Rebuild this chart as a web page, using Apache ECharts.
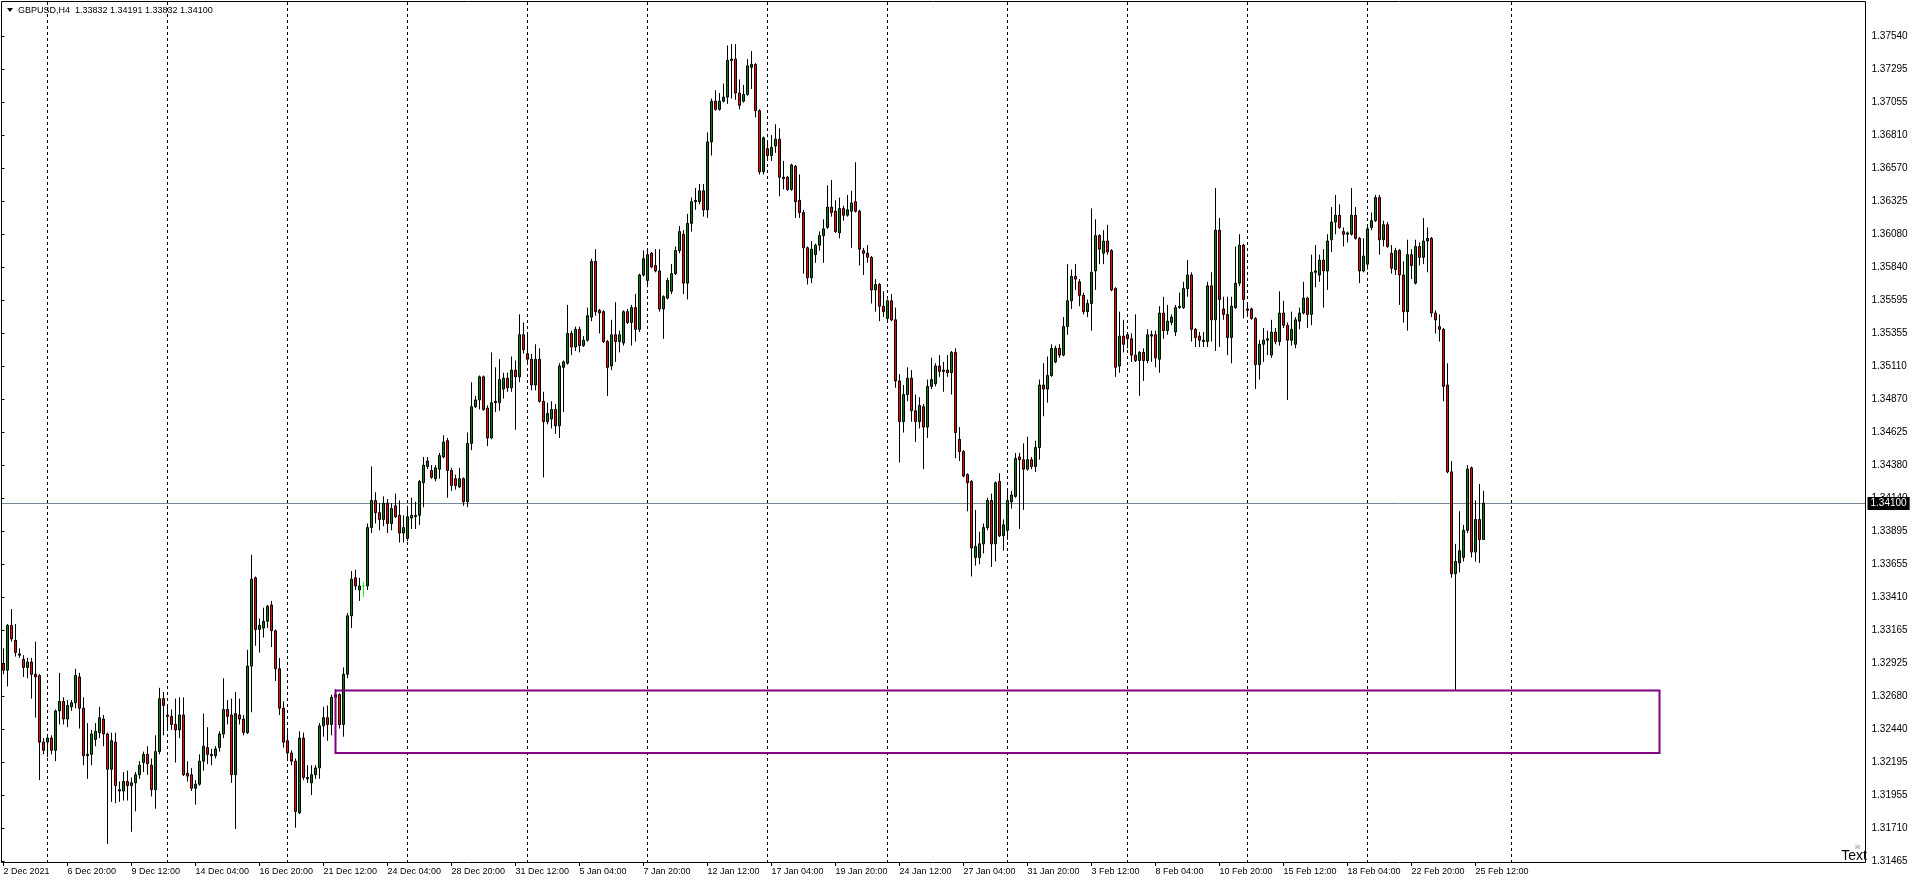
<!DOCTYPE html>
<html><head><meta charset="utf-8">
<script src="https://cdn.jsdelivr.net/npm/echarts/dist/echarts.min.js"></script>
<style>html,body{margin:0;padding:0;background:#fff;overflow:hidden}#c{width:1912px;height:885px}</style>
</head><body><div id="c"></div>
<script>
// ---------- data ----------
const symbolTitle = 'GBPUSD,H4  1.33832 1.34191 1.33832 1.34100';
const dateLabels = ['2 Dec 2021','6 Dec 20:00','9 Dec 12:00','14 Dec 04:00','16 Dec 20:00','21 Dec 12:00','24 Dec 04:00','28 Dec 20:00','31 Dec 12:00','5 Jan 04:00','7 Jan 20:00','12 Jan 12:00','17 Jan 04:00','19 Jan 20:00','24 Jan 12:00','27 Jan 04:00','31 Jan 20:00','3 Feb 12:00','8 Feb 04:00','10 Feb 20:00','15 Feb 12:00','18 Feb 04:00','22 Feb 20:00','25 Feb 12:00'];
const dateLabelStep = 16;
const priceTickLabels = ['1.31465','1.31710','1.31955','1.32195','1.32440','1.32680','1.32925','1.33165','1.33410','1.33655','1.33895','1.34140','1.34380','1.34625','1.34870','1.35110','1.35355','1.35595','1.35840','1.36080','1.36325','1.36570','1.36810','1.37055','1.37295','1.37540'];
const separatorBars = [11,41,71,101,131,161,191,221,251,281,311,341,377];
const bidPrice = 1.34100;
const zoneBox = [83, 414, 1.3272, 1.3226]; // fromBar, toBar, top price, bottom price

// bars: [open, high, low, close]
const wk0 = [[1.3292,1.3303,1.3284,1.3287],[1.3287,1.3321,1.3275,1.3320],[1.3320,1.3332,1.3308,1.3310],[1.3309,1.3321,1.3297,1.3300],[1.3299,1.3303,1.3296,1.3298],[1.3295,1.3298,1.3282,1.3289],[1.3289,1.3296,1.3281,1.3293],[1.3293,1.3296,1.3266,1.3284],[1.3284,1.3308,1.3252,1.3282],[1.3283,1.3284,1.3206,1.3234],[1.3234,1.3237,1.3225,1.3228]];
const wk1 = [[1.3234,1.3239,1.3223,1.3237],[1.3237,1.3239,1.3225,1.3228],[1.3228,1.3258,1.3220,1.3257],[1.3257,1.3285,1.3247,1.3264],[1.3264,1.3267,1.3247,1.3251],[1.3251,1.3265,1.3245,1.3261],[1.3260,1.3265,1.3257,1.3263],[1.3263,1.3288,1.3259,1.3283],[1.3282,1.3285,1.3244,1.3259],[1.3259,1.3267,1.3217,1.3224],
[1.3224,1.3248,1.3207,1.3225],[1.3225,1.3243,1.3217,1.3240],[1.3236,1.3248,1.3231,1.3242],[1.3241,1.3260,1.3237,1.3252],[1.3251,1.3254,1.3231,1.3240],[1.3240,1.3241,1.3159,1.3214],[1.3214,1.3241,1.3190,1.3235],[1.3234,1.3241,1.3189,1.3202],[1.3199,1.3205,1.3190,1.3198],[1.3198,1.3212,1.3191,1.3205],
[1.3205,1.3213,1.3191,1.3202],[1.3202,1.3208,1.3168,1.3204],[1.3204,1.3212,1.3183,1.3210],[1.3210,1.3220,1.3207,1.3217],[1.3219,1.3227,1.3212,1.3225],[1.3225,1.3231,1.3210,1.3218],[1.3217,1.3222,1.3194,1.3199],[1.3199,1.3239,1.3185,1.3227],[1.3227,1.3274,1.3225,1.3266],[1.3266,1.3271,1.3239,1.3261]];
const wk2 = [[1.3254,1.3261,1.3244,1.3253],[1.3253,1.3258,1.3243,1.3247],[1.3247,1.3266,1.3219,1.3243],[1.3243,1.3267,1.3237,1.3254],[1.3254,1.3267,1.3209,1.3210],[1.3211,1.3220,1.3205,1.3209],[1.3210,1.3215,1.3198,1.3200],[1.3200,1.3206,1.3188,1.3203],[1.3203,1.3225,1.3202,1.3220],[1.3220,1.3255,1.3213,1.3231],
[1.3230,1.3245,1.3218,1.3225],[1.3225,1.3229,1.3217,1.3224],[1.3224,1.3231,1.3222,1.3229],[1.3230,1.3242,1.3227,1.3240],[1.3240,1.3281,1.3237,1.3258],[1.3258,1.3265,1.3247,1.3253],[1.3254,1.3266,1.3204,1.3210],[1.3210,1.3271,1.3170,1.3255],[1.3254,1.3266,1.3247,1.3251],[1.3251,1.3254,1.3239,1.3241],
[1.3241,1.3302,1.3240,1.3290],[1.3290,1.3372,1.3256,1.3354],[1.3355,1.3356,1.3305,1.3317],[1.3317,1.3325,1.3300,1.3320],[1.3318,1.3333,1.3311,1.3323],[1.3323,1.3335,1.3318,1.3334],[1.3335,1.3338,1.3304,1.3316],[1.3316,1.3317,1.3279,1.3288],[1.3288,1.3296,1.3254,1.3259],[1.3259,1.3264,1.3230,1.3234]];
const wk3 = [[1.3235,1.3242,1.3220,1.3226],[1.3226,1.3228,1.3217,1.3220],[1.3220,1.3222,1.3171,1.3183],[1.3182,1.3242,1.3181,1.3237],[1.3237,1.3241,1.3206,1.3208],[1.3208,1.3217,1.3204,1.3207],[1.3204,1.3217,1.3195,1.3210],[1.3210,1.3217,1.3207,1.3215],[1.3215,1.3248,1.3207,1.3246],[1.3246,1.3260,1.3238,1.3252],
[1.3252,1.3261,1.3235,1.3247],[1.3247,1.3269,1.3239,1.3267],[1.3267,1.3273,1.3244,1.3269],[1.3269,1.3270,1.3244,1.3247],[1.3247,1.3289,1.3238,1.3284],[1.3284,1.3329,1.3281,1.3327],[1.3327,1.3360,1.3318,1.3354],[1.3355,1.3361,1.3346,1.3349],[1.3346,1.3355,1.3338,1.3349],[1.3349,1.3352,1.3341,1.3349],
[1.3349,1.3395,1.3346,1.3392],[1.3392,1.3437,1.3388,1.3412],[1.3412,1.3418,1.3395,1.3403],[1.3403,1.3410,1.3390,1.3398],[1.3398,1.3415,1.3393,1.3410],[1.3410,1.3413,1.3388,1.3395],[1.3395,1.3410,1.3390,1.3406],[1.3408,1.3417,1.3399,1.3400],[1.3401,1.3412,1.3381,1.3388],[1.3388,1.3401,1.3381,1.3392]];
const wk4 = [[1.3384,1.3408,1.3382,1.3400],[1.3399,1.3414,1.3391,1.3401],[1.3400,1.3411,1.3391,1.3401],[1.3401,1.3427,1.3394,1.3426],[1.3425,1.3444,1.3407,1.3438],[1.3437,1.3444,1.3435,1.3441],[1.3434,1.3438,1.3428,1.3429],[1.3428,1.3438,1.3426,1.3436],[1.3435,1.3447,1.3428,1.3445],[1.3444,1.3460,1.3443,1.3455],
[1.3456,1.3458,1.3414,1.3434],[1.3434,1.3436,1.3419,1.3423],[1.3428,1.3431,1.3420,1.3423],[1.3422,1.3436,1.3421,1.3428],[1.3428,1.3429,1.3408,1.3411],[1.3411,1.3462,1.3407,1.3454],[1.3454,1.3499,1.3449,1.3481],[1.3481,1.3489,1.3480,1.3486],[1.3486,1.3504,1.3479,1.3503],[1.3503,1.3504,1.3478,1.3479],
[1.3480,1.3482,1.3452,1.3458],[1.3458,1.3521,1.3457,1.3484],[1.3484,1.3510,1.3477,1.3485],[1.3484,1.3516,1.3478,1.3501],[1.3494,1.3506,1.3487,1.3502],[1.3502,1.3506,1.3492,1.3495],[1.3495,1.3518,1.3492,1.3508],[1.3508,1.3515,1.3464,1.3503],[1.3503,1.3549,1.3499,1.3534],[1.3534,1.3543,1.3520,1.3523]];
const wk5 = [[1.3520,1.3536,1.3513,1.3516],[1.3516,1.3520,1.3493,1.3497],[1.3497,1.3527,1.3493,1.3516],[1.3516,1.3524,1.3484,1.3485],[1.3485,1.3492,1.3429,1.3470],[1.3470,1.3484,1.3468,1.3476],[1.3472,1.3485,1.3465,1.3479],[1.3479,1.3483,1.3461,1.3467],[1.3467,1.3513,1.3458,1.3511],[1.3510,1.3515,1.3477,1.3514],
[1.3513,1.3556,1.3512,1.3535],[1.3535,1.3537,1.3519,1.3525],[1.3525,1.3540,1.3522,1.3538],[1.3538,1.3540,1.3521,1.3526],[1.3526,1.3533,1.3525,1.3530],[1.3530,1.3554,1.3529,1.3548],[1.3547,1.3590,1.3544,1.3588],[1.3588,1.3597,1.3548,1.3551],[1.3552,1.3553,1.3535,1.3550],[1.3551,1.3552,1.3528,1.3529],
[1.3529,1.3530,1.3489,1.3510],[1.3511,1.3545,1.3508,1.3534],[1.3534,1.3558,1.3514,1.3529],[1.3529,1.3537,1.3521,1.3534],[1.3528,1.3552,1.3526,1.3551],[1.3551,1.3553,1.3542,1.3543],[1.3543,1.3556,1.3526,1.3554],[1.3554,1.3564,1.3529,1.3538],[1.3538,1.3579,1.3536,1.3578],[1.3578,1.3596,1.3577,1.3590]];
const wk6 = [[1.3574,1.3596,1.3569,1.3593],[1.3594,1.3595,1.3583,1.3584],[1.3585,1.3597,1.3580,1.3581],[1.3581,1.3597,1.3551,1.3553],[1.3553,1.3563,1.3531,1.3562],[1.3561,1.3576,1.3560,1.3574],[1.3566,1.3586,1.3564,1.3579],[1.3579,1.3599,1.3578,1.3596],[1.3596,1.3614,1.3594,1.3610],[1.3608,1.3611,1.3564,1.3572],
[1.3572,1.3623,1.3560,1.3616],[1.3616,1.3635,1.3610,1.3632],[1.3632,1.3642,1.3626,1.3633],[1.3632,1.3645,1.3630,1.3640],[1.3640,1.3645,1.3621,1.3626],[1.3626,1.3683,1.3620,1.3676],[1.3676,1.3708,1.3666,1.3706],[1.3706,1.3714,1.3699,1.3700],[1.3700,1.3712,1.3699,1.3706],[1.3706,1.3719,1.3705,1.3709],
[1.3709,1.3747,1.3704,1.3736],[1.3736,1.3748,1.3708,1.3737],[1.3737,1.3748,1.3707,1.3712],[1.3712,1.3722,1.3700,1.3703],[1.3706,1.3718,1.3705,1.3711],[1.3711,1.3737,1.3710,1.3732],[1.3731,1.3743,1.3715,1.3733],[1.3733,1.3734,1.3694,1.3699],[1.3699,1.3700,1.3652,1.3654],[1.3654,1.3680,1.3652,1.3679]];
const wk7 = [[1.3671,1.3677,1.3662,1.3666],[1.3666,1.3681,1.3662,1.3672],[1.3673,1.3689,1.3668,1.3678],[1.3678,1.3686,1.3636,1.3650],[1.3650,1.3662,1.3641,1.3649],[1.3650,1.3651,1.3640,1.3641],[1.3641,1.3660,1.3640,1.3659],[1.3658,1.3659,1.3620,1.3632],[1.3633,1.3652,1.3620,1.3624],[1.3624,1.3626,1.3579,1.3598],
[1.3598,1.3599,1.3571,1.3576],[1.3576,1.3603,1.3572,1.3597],[1.3593,1.3601,1.3587,1.3600],[1.3600,1.3610,1.3596,1.3607],[1.3607,1.3619,1.3587,1.3612],[1.3613,1.3644,1.3612,1.3628],[1.3628,1.3648,1.3621,1.3624],[1.3625,1.3633,1.3609,1.3610],[1.3609,1.3635,1.3605,1.3627],[1.3627,1.3629,1.3618,1.3622],
[1.3622,1.3637,1.3621,1.3626],[1.3625,1.3640,1.3598,1.3631],[1.3632,1.3661,1.3624,1.3625],[1.3625,1.3626,1.3585,1.3597],[1.3596,1.3598,1.3578,1.3594],[1.3594,1.3600,1.3587,1.3591],[1.3591,1.3592,1.3557,1.3567],[1.3567,1.3575,1.3551,1.3571],[1.3571,1.3572,1.3544,1.3555],[1.3555,1.3566,1.3547,1.3551]];
const wk8 = [[1.3546,1.3560,1.3543,1.3559],[1.3559,1.3564,1.3544,1.3545],[1.3545,1.3554,1.3495,1.3500],[1.3500,1.3505,1.3440,1.3470],[1.3470,1.3497,1.3462,1.3490],[1.3490,1.3510,1.3485,1.3502],[1.3502,1.3508,1.3470,1.3478],[1.3478,1.3490,1.3455,1.3470],[1.3470,1.3488,1.3465,1.3482],[1.3481,1.3483,1.3435,1.3466],
[1.3466,1.3501,1.3458,1.3496],[1.3496,1.3517,1.3494,1.3501],[1.3498,1.3513,1.3496,1.3511],[1.3511,1.3519,1.3503,1.3507],[1.3507,1.3514,1.3492,1.3508],[1.3508,1.3519,1.3503,1.3506],[1.3506,1.3522,1.3490,1.3521],[1.3521,1.3524,1.3443,1.3462],[1.3457,1.3466,1.3441,1.3448],[1.3448,1.3449,1.3429,1.3430],
[1.3431,1.3432,1.3404,1.3425],[1.3426,1.3427,1.3356,1.3377],[1.3370,1.3405,1.3364,1.3378],[1.3370,1.3389,1.3365,1.3380],[1.3380,1.3395,1.3373,1.3392],[1.3392,1.3414,1.3390,1.3412],[1.3412,1.3417,1.3363,1.3380],[1.3380,1.3426,1.3367,1.3425],[1.3426,1.3432,1.3385,1.3386],[1.3386,1.3398,1.3375,1.3394]];
const wk9 = [[1.3390,1.3419,1.3383,1.3412],[1.3411,1.3419,1.3406,1.3416],[1.3415,1.3447,1.3414,1.3443],[1.3444,1.3447,1.3391,1.3442],[1.3442,1.3454,1.3405,1.3435],[1.3435,1.3459,1.3434,1.3442],[1.3442,1.3444,1.3435,1.3437],[1.3437,1.3456,1.3433,1.3451],[1.3451,1.3501,1.3442,1.3497],[1.3497,1.3513,1.3474,1.3494],
[1.3494,1.3518,1.3484,1.3504],[1.3504,1.3527,1.3503,1.3524],[1.3514,1.3526,1.3513,1.3524],[1.3524,1.3527,1.3517,1.3519],[1.3519,1.3547,1.3518,1.3540],[1.3540,1.3586,1.3534,1.3559],[1.3559,1.3582,1.3553,1.3577],[1.3577,1.3586,1.3567,1.3575],[1.3573,1.3575,1.3555,1.3563],[1.3563,1.3565,1.3549,1.3551],
[1.3551,1.3560,1.3547,1.3557],[1.3557,1.3627,1.3537,1.3580],[1.3581,1.3619,1.3567,1.3607],[1.3607,1.3608,1.3586,1.3597],[1.3594,1.3611,1.3586,1.3603],[1.3603,1.3615,1.3593,1.3595],[1.3596,1.3597,1.3566,1.3567],[1.3568,1.3569,1.3503,1.3510],[1.3511,1.3551,1.3506,1.3533],[1.3533,1.3545,1.3521,1.3527]];
const wk10 = [[1.3534,1.3535,1.3524,1.3531],[1.3531,1.3535,1.3514,1.3519],[1.3519,1.3549,1.3514,1.3515],[1.3515,1.3522,1.3489,1.3521],[1.3521,1.3524,1.3500,1.3515],[1.3515,1.3538,1.3513,1.3534],[1.3534,1.3537,1.3514,1.3533],[1.3534,1.3537,1.3510,1.3517],[1.3516,1.3555,1.3506,1.3550],[1.3550,1.3562,1.3531,1.3537],
[1.3537,1.3556,1.3534,1.3544],[1.3543,1.3549,1.3541,1.3547],[1.3536,1.3556,1.3533,1.3554],[1.3554,1.3565,1.3553,1.3555],[1.3554,1.3573,1.3553,1.3568],[1.3568,1.3589,1.3562,1.3578],[1.3578,1.3580,1.3529,1.3538],[1.3538,1.3539,1.3525,1.3532],[1.3533,1.3536,1.3525,1.3530],[1.3530,1.3536,1.3525,1.3529],
[1.3529,1.3573,1.3525,1.3570],[1.3570,1.3580,1.3529,1.3545],[1.3545,1.3642,1.3522,1.3611],[1.3611,1.3620,1.3525,1.3560],[1.3553,1.3562,1.3545,1.3549],[1.3549,1.3562,1.3519,1.3532],[1.3532,1.3562,1.3513,1.3555],[1.3554,1.3599,1.3553,1.3572],[1.3572,1.3608,1.3570,1.3600],[1.3600,1.3601,1.3546,1.3560]];
const wk11 = [[1.3553,1.3556,1.3549,1.3552],[1.3553,1.3554,1.3545,1.3546],[1.3546,1.3547,1.3494,1.3512],[1.3512,1.3530,1.3501,1.3527],[1.3527,1.3539,1.3514,1.3530],[1.3530,1.3537,1.3519,1.3531],[1.3519,1.3545,1.3517,1.3536],[1.3536,1.3539,1.3527,1.3529],[1.3529,1.3566,1.3526,1.3550],[1.3550,1.3559,1.3539,1.3541],
[1.3541,1.3543,1.3486,1.3530],[1.3530,1.3551,1.3526,1.3538],[1.3527,1.3547,1.3524,1.3545],[1.3544,1.3554,1.3538,1.3550],[1.3550,1.3573,1.3549,1.3561],[1.3561,1.3562,1.3539,1.3549],[1.3549,1.3593,1.3541,1.3580],[1.3580,1.3600,1.3569,1.3581],[1.3578,1.3593,1.3573,1.3589],[1.3589,1.3597,1.3554,1.3581],
[1.3581,1.3608,1.3567,1.3603],[1.3604,1.3628,1.3595,1.3617],[1.3617,1.3637,1.3608,1.3622],[1.3622,1.3630,1.3612,1.3613],[1.3610,1.3613,1.3599,1.3608],[1.3609,1.3610,1.3602,1.3608],[1.3608,1.3642,1.3607,1.3622],[1.3622,1.3628,1.3604,1.3605],[1.3605,1.3606,1.3572,1.3581],[1.3581,1.3605,1.3580,1.3592]];
const wk12 = [[1.3586,1.3615,1.3582,1.3612],[1.3613,1.3624,1.3611,1.3618],[1.3618,1.3637,1.3617,1.3635],[1.3635,1.3637,1.3593,1.3604],[1.3604,1.3618,1.3599,1.3615],[1.3615,1.3617,1.3598,1.3599],[1.3594,1.3600,1.3579,1.3583],[1.3582,1.3598,1.3578,1.3596],[1.3596,1.3597,1.3556,1.3578],[1.3578,1.3588,1.3543,1.3551],
[1.3551,1.3604,1.3537,1.3593],[1.3593,1.3597,1.3575,1.3585],[1.3572,1.3604,1.3571,1.3599],[1.3599,1.3602,1.3585,1.3591],[1.3591,1.3620,1.3586,1.3603],[1.3603,1.3613,1.3580,1.3605],[1.3605,1.3606,1.3547,1.3550],[1.3550,1.3552,1.3535,1.3545],[1.3540,1.3549,1.3529,1.3538],[1.3538,1.3539,1.3485,1.3496],
[1.3497,1.3513,1.3432,1.3433],[1.3433,1.3441,1.3355,1.3358],[1.3358,1.3380,1.3272,1.3367],[1.3366,1.3404,1.3359,1.3375],[1.3370,1.3394,1.3367,1.3390],[1.3390,1.3438,1.3388,1.3435],[1.3436,1.3437,1.3370,1.3374],[1.3374,1.3412,1.3367,1.3398],[1.3398,1.3424,1.3366,1.33832],[1.33832,1.34191,1.33832,1.34100]];

// ---------- chart ----------
const FONT = 'Liberation Sans';
const bars = [].concat(wk0, wk1, wk2, wk3, wk4, wk5, wk6, wk7, wk8, wk9, wk10, wk11, wk12);
const SLOTS = 466;
const slots = Array.from({length: SLOTS}, (_, i) => String(i));
const lime = {color: '#00ff00', color0: '#00ff00', borderColor: '#00ff00', borderColor0: '#00ff00'};
const candleData = bars.map(([o, h, l, c]) => o === c ? {value: [o, c, l, h], itemStyle: lime} : [o, c, l, h]);
const isLabelSlot = (idx) => idx % dateLabelStep === 0 && idx / dateLabelStep < dateLabels.length;

const chart = echarts.init(document.getElementById('c'), null, {renderer: 'canvas'});
chart.setOption({
  animation: false,
  backgroundColor: '#ffffff',
  grid: [
    {left: 1.5, top: 2, width: 1864, height: 860, containLabel: false, outerBoundsMode: 'none'},
    {left: 1.5, top: 36, width: 1864, height: 825, containLabel: false, outerBoundsMode: 'none'}
  ],
  xAxis: [
    {type: 'category', gridIndex: 0, data: slots, boundaryGap: true,
     axisLine: {show: false},
     axisTick: {show: true, alignWithLabel: true, interval: (i) => isLabelSlot(i), length: 4, lineStyle: {color: '#000'}},
     axisLabel: {show: true, interval: (i) => isLabelSlot(i), formatter: (v, i) => dateLabels[Number(v) / dateLabelStep] || '',
                 align: 'left', margin: 5, fontSize: 9, color: '#000', fontFamily: FONT},
     splitLine: {show: false}},
    {type: 'value', gridIndex: 1, show: false, min: 0, max: 1}
  ],
  yAxis: [
    {type: 'value', gridIndex: 0, show: false, min: 1.314573, max: 1.377904, splitLine: {show: false}},
    {type: 'value', gridIndex: 1, position: 'right', min: 0, max: 25, interval: 1,
     axisLine: {show: false},
     axisTick: {show: true, length: 3, lineStyle: {color: '#000'}},
     axisLabel: {margin: 6, fontSize: 10, color: '#000', fontFamily: FONT, formatter: (v) => priceTickLabels[Math.round(v)] || ''},
     splitLine: {show: false}}
  ],
  series: [
    {type: 'custom', name: 'separators', xAxisIndex: 0, yAxisIndex: 0, z: 1, silent: true,
     data: separatorBars.map(b => [b, bidPrice]),
     encode: {x: 0, y: 1},
     renderItem: (params, api) => {
       const x = api.coord([api.value(0), api.value(1)])[0];
       const cs = params.coordSys;
       return {type: 'line', shape: {x1: x, y1: cs.y, x2: x, y2: cs.y + cs.height},
               style: {stroke: '#000', lineWidth: 1, lineDash: [3, 3]}};
     }},
    {type: 'custom', name: 'bid', xAxisIndex: 0, yAxisIndex: 0, z: 2, silent: true, clip: false,
     data: [[0, bidPrice]],
     encode: {x: 0, y: 1},
     renderItem: (params, api) => {
       const y = Math.round(api.coord([api.value(0), api.value(1)])[1]) + 0.5;
       const cs = params.coordSys;
       return {type: 'group', children: [
         {type: 'line', shape: {x1: cs.x, y1: y, x2: cs.x + cs.width, y2: y}, style: {stroke: '#778899', lineWidth: 1}},
         {type: 'text', x: cs.x + cs.width + 2, y: y, z2: 10,
          style: {text: api.value(1).toFixed(5), fill: '#fff', backgroundColor: '#000', padding: [2, 3, 1, 3],
                  fontSize: 10, fontFamily: FONT, verticalAlign: 'middle', align: 'left'}}
       ]};
     }},
    {type: 'candlestick', name: 'GBPUSD', xAxisIndex: 0, yAxisIndex: 0, z: 3, silent: true,
     barWidth: 2, data: candleData,
     itemStyle: {color: '#008000', color0: '#ff0000', borderColor: '#000000', borderColor0: '#000000', borderWidth: 1}},
    {type: 'custom', name: 'zone', xAxisIndex: 0, yAxisIndex: 0, z: 4, silent: true,
     data: [zoneBox], encode: {x: [0, 1], y: [2, 3]},
     renderItem: (params, api) => {
       const p1 = api.coord([api.value(0), api.value(2)]);
       const p2 = api.coord([api.value(1), api.value(3)]);
       return {type: 'rect', shape: {x: p1[0], y: p1[1], width: p2[0] - p1[0], height: p2[1] - p1[1]},
               style: {fill: 'none', stroke: '#800080', lineWidth: 2}};
     }}
  ],
  graphic: [
    {type: 'rect', z: 10, silent: true, shape: {x: 1.5, y: 1.5, width: 1864, height: 861}, style: {fill: 'none', stroke: '#000', lineWidth: 1}},
    {type: 'polygon', z: 10, silent: true, shape: {points: [[7, 8], [13, 8], [10, 12]]}, style: {fill: '#000'}},
    {type: 'text', z: 10, silent: true, x: 18, y: 11, style: {text: symbolTitle, fontSize: 9, fontFamily: FONT, fill: '#000', verticalAlign: 'middle'}},
    {type: 'text', z: 10, silent: true, x: 1857, y: 847, style: {text: '\u2620', fontSize: 8, fill: '#8c8c8c', align: 'center', verticalAlign: 'middle'}},
    {type: 'text', z: 10, silent: true, x: 1867, y: 863, style: {text: 'Text', fontSize: 14, fontFamily: FONT, fill: '#000', align: 'right', verticalAlign: 'bottom'}}
  ]
});
</script>
</body></html>
